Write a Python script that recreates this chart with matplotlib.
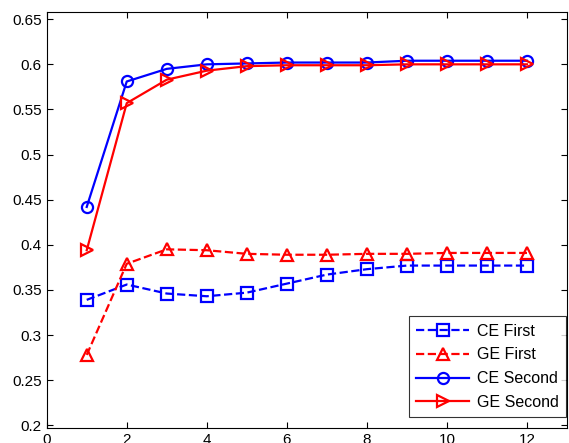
import numpy as np
import matplotlib.pyplot as plt

plt.rcParams['font.family'] = ['Liberation Sans', 'DejaVu Sans']

x = [1, 2, 3, 4, 5, 6, 7, 8, 9, 10, 11, 12]
ce_first = [0.339, 0.356, 0.346, 0.343, 0.347, 0.357, 0.367, 0.373, 0.377, 0.377, 0.377, 0.377]
ge_first = [0.278, 0.379, 0.395, 0.394, 0.390, 0.389, 0.389, 0.390, 0.390, 0.391, 0.391, 0.391]
ce_second = [0.442, 0.581, 0.595, 0.600, 0.601, 0.602, 0.602, 0.602, 0.604, 0.604, 0.604, 0.604]
ge_second = [0.394, 0.557, 0.583, 0.593, 0.598, 0.599, 0.599, 0.599, 0.600, 0.600, 0.600, 0.600]

yticks = [0.2, 0.25, 0.3, 0.35, 0.4, 0.45, 0.5, 0.55, 0.6, 0.65]
ytick_labels = ['0.2', '0.25', '0.3', '0.35', '0.4', '0.45', '0.5', '0.55', '0.6', '0.65']
xticks = [0, 2, 4, 6, 8, 10, 12]

fig = plt.figure(figsize=(5.69, 4.43), dpi=100)
ax = fig.add_axes([46.7 / 569, 15 / 443, (567 - 46.7) / 569, (428 - 12) / 443])

lw = 1.6
ms = 8
ax.plot(x, ce_first, color='blue', linestyle='--', linewidth=lw, marker='s', markersize=ms,
        markerfacecolor='none', markeredgewidth=lw, label='CE First')
ax.plot(x, ge_first, color='red', linestyle='--', linewidth=lw, marker='^', markersize=ms + 1,
        markerfacecolor='none', markeredgewidth=lw, label='GE First')
ax.plot(x, ce_second, color='blue', linestyle='-', linewidth=lw, marker='o', markersize=ms,
        markerfacecolor='none', markeredgewidth=lw, label='CE Second')
ax.plot(x, ge_second, color='red', linestyle='-', linewidth=lw, marker='>', markersize=ms + 1,
        markerfacecolor='none', markeredgewidth=lw, label='GE Second')

ax.set_xlim(0, 13)
ax.set_ylim(0.197, 0.658)
ax.set_xticks(xticks)
ax.set_yticks(yticks)
ax.set_yticklabels(ytick_labels)
ax.tick_params(direction='in', top=True, right=True, labelsize=11, length=4, width=0.8)
for s in ax.spines.values():
    s.set_linewidth(0.8)

leg = ax.legend(loc='lower right', bbox_to_anchor=(0.998, 0.026), borderaxespad=0,
                fontsize=11.5, frameon=True, fancybox=False, edgecolor='black',
                handlelength=3.3, borderpad=0.45, labelspacing=0.55, handletextpad=0.5)
leg.get_frame().set_linewidth(0.8)

fig.savefig('out.png', dpi=100)
